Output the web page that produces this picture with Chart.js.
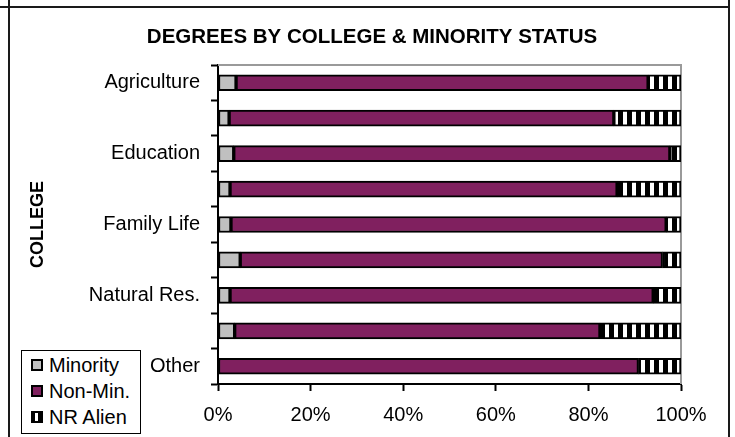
<!DOCTYPE html>
<html>
<head>
<meta charset="utf-8">
<script src="https://cdn.jsdelivr.net/npm/chart.js@4.4.1/dist/chart.umd.min.js"></script>
<style>
  html, body { margin: 0; padding: 0; background: #fff; }
  #wrap { position: relative; width: 735px; height: 437px; overflow: hidden; }
  #chart { position: absolute; left: 0; top: 0; }
  .ln { position: absolute; background: #1a1a1a; }
  #legend { position: absolute; left: 21px; top: 350px; width: 118px; height: 82px; border: 1px solid #000;
            background: #fff; font: 20px 'Liberation Sans', Arial, sans-serif; color: #000; }
  .item { position: absolute; left: 9px; height: 24px; line-height: 24px; display: flex; align-items: center; white-space: nowrap; }
  .sw { width: 8px; height: 8px; border: 2px solid #000; margin-right: 6px; }
</style>
</head>
<body>
<div id="wrap">
  <canvas id="chart" width="735" height="437"></canvas>
  <div class="ln" style="left:0;top:6px;width:730px;height:2px"></div>
  <div class="ln" style="left:8px;top:0;width:2px;height:437px"></div>
  <div class="ln" style="left:728px;top:0;width:2px;height:437px"></div>
  <div id="legend"></div>
</div>
<script>
// college rows, top to bottom (unlabelled rows have no visible name)
const categories = ['Agriculture', '', 'Education', '', 'Family Life', '', 'Natural Res.', '', 'Other'];
// share of degrees, percent
const minority = [3.9, 2.4, 3.4, 2.6, 2.8, 4.8, 2.6, 3.6, 0];
const nonMin   = [89.0, 83.1, 94.2, 83.6, 94.0, 91.2, 91.4, 78.9, 90.8];
const nrAlien  = [7.1, 14.5, 2.4, 13.8, 3.2, 4.0, 6.0, 17.5, 9.2];
const xTicks   = [0, 20, 40, 60, 80, 100];
const seriesNames = ['Minority', 'Non-Min.', 'NR Alien'];

Chart.defaults.font.family = "'Liberation Sans', Arial, sans-serif";
Chart.defaults.color = '#000';

const GRAY = '#c0c0c0';
const PLUM = '#80205f';

function stripes() {
  const c = document.createElement('canvas');
  c.width = 9; c.height = 4;
  const g = c.getContext('2d');
  g.fillStyle = '#000'; g.fillRect(0, 0, 9, 4);
  g.fillStyle = '#fff'; g.fillRect(2, 0, 4, 4);
  return g.createPattern(c, 'repeat');
}

// gray top/right edge of the plot area
const plotFrame = {
  id: 'plotFrame',
  beforeDatasetsDraw(chart) {
    const { ctx, chartArea: a } = chart;
    ctx.save();
    ctx.strokeStyle = '#9a9a9a';
    ctx.lineWidth = 2;
    ctx.beginPath();
    ctx.moveTo(a.left, a.top);
    ctx.lineTo(a.right, a.top);
    ctx.lineTo(a.right, a.bottom);
    ctx.stroke();
    ctx.restore();
  }
};

const barStyle = { barThickness: 16, borderWidth: 2, borderColor: '#000', borderSkipped: false };

new Chart(document.getElementById('chart'), {
  type: 'bar',
  data: {
    labels: categories,
    datasets: [
      { label: seriesNames[0], data: minority, backgroundColor: GRAY, ...barStyle },
      { label: seriesNames[1], data: nonMin, backgroundColor: PLUM, ...barStyle },
      { label: seriesNames[2], data: nrAlien, backgroundColor: stripes(), ...barStyle },
    ],
  },
  options: {
    indexAxis: 'y',
    responsive: false,
    animation: false,
    layout: { padding: { left: 9, right: 0, top: 0, bottom: 0 } },
    plugins: {
      legend: { display: false },
      tooltip: { enabled: false },
      title: {
        display: true,
        text: 'DEGREES BY COLLEGE & MINORITY STATUS',
        font: { size: 20.5, weight: 'bold' },
        color: '#000',
        padding: { top: 25, bottom: 15.4 },
      },
    },
    scales: {
      x: {
        type: 'linear',
        stacked: true,
        min: 0,
        max: 100,
        afterBuildTicks: s => { s.ticks = xTicks.map(v => ({ value: v })); },
        ticks: { callback: v => v + '%', font: { size: 20 }, padding: 12, maxRotation: 0 },
        grid: { drawOnChartArea: false, tickLength: 7, tickColor: '#000', tickWidth: 2 },
        border: { color: '#000', width: 2 },
        afterFit: s => { s.height = 53; },
      },
      y: {
        type: 'category',
        stacked: true,
        ticks: { font: { size: 20 }, padding: 11, autoSkip: false },
        grid: { drawOnChartArea: false, offset: true, tickLength: 7, tickColor: '#000', tickWidth: 2 },
        border: { color: '#000', width: 2 },
        title: {
          display: true,
          text: 'COLLEGE',
          font: { size: 18, weight: 'bold' },
          color: '#000',
          padding: { top: 18, bottom: 0 },
        },
        afterFit: s => { s.width = 209; },
      },
      y2: {
        type: 'category',
        position: 'right',
        ticks: { display: false },
        grid: { display: false },
        border: { display: false },
        afterFit: s => { s.width = 54; },
      },
    },
  },
  plugins: [plotFrame],
});

// legend in the lower left corner
const swatches = [
  'background:' + GRAY,
  'background:' + PLUM,
  'background:linear-gradient(90deg,#000 0 2px,#fff 2px 5px,#000 5px)',
];
const legend = document.getElementById('legend');
seriesNames.forEach((name, k) => {
  const item = document.createElement('div');
  item.className = 'item';
  item.style.top = (2 + k * 26) + 'px';
  item.innerHTML = '<span class="sw" style="' + swatches[k] + '"></span>' + name;
  legend.appendChild(item);
});
</script>
</body>
</html>
